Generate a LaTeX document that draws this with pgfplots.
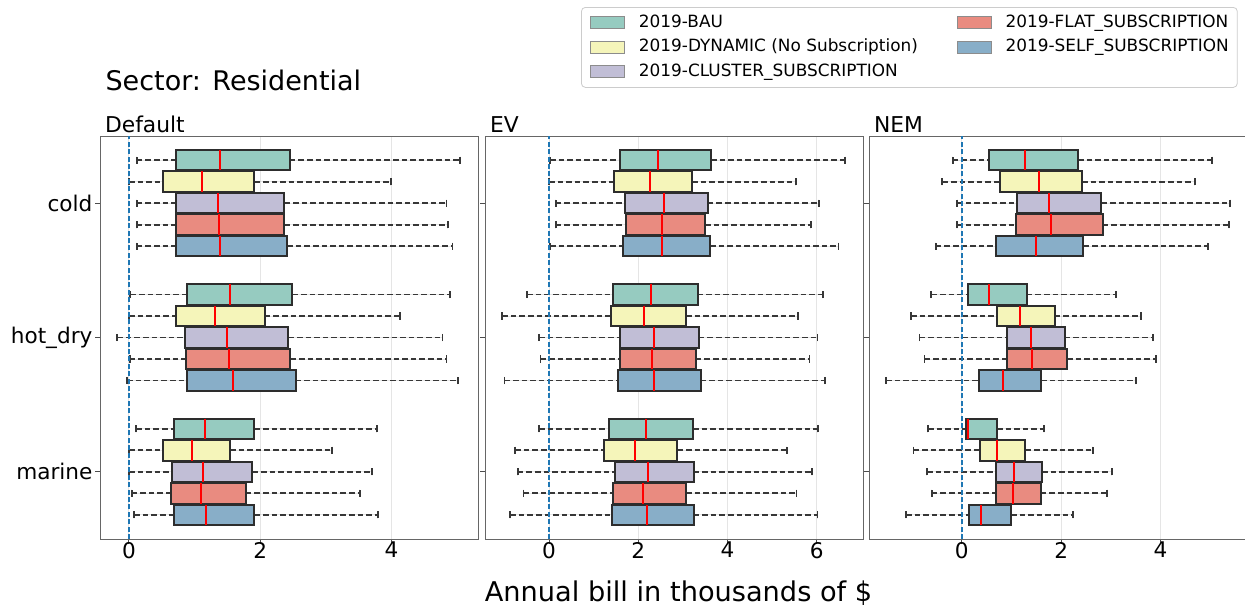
\documentclass[border=0pt]{standalone}
\usepackage{pgfplots}
\pgfplotsset{compat=1.18}
\usepgfplotslibrary{statistics}
\usepackage{fontspec}
\setmainfont{DejaVu Sans}

\definecolor{cBAU}{RGB}{150,203,192}
\definecolor{cDYN}{RGB}{245,245,186}
\definecolor{cCLU}{RGB}{193,190,214}
\definecolor{cFLAT}{RGB}{233,139,128}
\definecolor{cSELF}{RGB}{136,174,200}
\definecolor{edgec}{RGB}{45,45,45}
\definecolor{whiskc}{RGB}{55,55,55}
\definecolor{zeroc}{RGB}{31,119,180}

% one prepared box: position, lower whisker, q1, median, q3, upper whisker, colour
\newcommand{\bx}[7]{%
  \addplot[forget plot, fill=#7, draw=edgec, line width=1pt,
    boxplot prepared={draw position=#1, lower whisker=#2, lower quartile=#3,
      median=#4, upper quartile=#5, upper whisker=#6}] coordinates {};}

\pgfplotsset{
  panel/.style={
    scale only axis, width=189pt, height=201.5pt,
    ymin=-0.5, ymax=2.5, ytick={0,1,2},
    boxplot/draw direction=x,
    boxplot/box extend=0.152,
    boxplot/whisker extend=0.054,
    boxplot/every median/.style={draw=red, line width=1pt},
    boxplot/draw/lower whisker/.code={%
      \draw[whiskc, line width=0.95pt, dash pattern=on 2.8pt off 1.5pt]
        (boxplot cs:\pgfplotsboxplotvalue{lower whisker}) --
        (boxplot cs:\pgfplotsboxplotvalue{lower quartile});
      \draw[whiskc, line width=0.9pt]
        (boxplot whisker cs:\pgfplotsboxplotvalue{lower whisker},0) --
        (boxplot whisker cs:\pgfplotsboxplotvalue{lower whisker},1);},
    boxplot/draw/upper whisker/.code={%
      \draw[whiskc, line width=0.95pt, dash pattern=on 2.8pt off 1.5pt]
        (boxplot cs:\pgfplotsboxplotvalue{upper quartile}) --
        (boxplot cs:\pgfplotsboxplotvalue{upper whisker});
      \draw[whiskc, line width=0.9pt]
        (boxplot whisker cs:\pgfplotsboxplotvalue{upper whisker},0) --
        (boxplot whisker cs:\pgfplotsboxplotvalue{upper whisker},1);},
    axis line style={draw=black!60, line width=0.5pt},
    tick align=outside, xtick pos=lower, ytick pos=left,
    major tick length=2.5pt,
    tick style={black!70, line width=0.5pt},
    xmajorgrids, grid style={black!10, line width=0.5pt},
    ticklabel style={font=\fontsize{10.8}{12}\selectfont, inner sep=0pt},
    yticklabel style={xshift=-1.1pt},
    xticklabel style={yshift=1.2pt},
    /pgf/number format/assume math mode=true,
    title style={at={(0,1)}, anchor=base west, inner sep=0pt,
      xshift=2.35pt, yshift=-4.15pt, font=\fontsize{10.9}{12}\selectfont},
  },
}

\begin{document}
\begin{tikzpicture}
\useasboundingbox (0,0) rectangle (622.5pt,-303pt);

% ---------------- Default
\begin{axis}[panel, at={(50pt,-68pt)}, anchor=north west,
  title={Default}, xmin=-0.442, xmax=5.32, xtick={0,2,4},
  yticklabels={marine,hot\_dry,cold}]
\bx{2.32}{0.12}{0.72}{1.38}{2.45}{5.05}{cBAU}
\bx{2.16}{0.00}{0.52}{1.11}{1.91}{3.99}{cDYN}
\bx{2.00}{0.12}{0.71}{1.35}{2.37}{4.84}{cCLU}
\bx{1.84}{0.12}{0.72}{1.37}{2.37}{4.86}{cFLAT}
\bx{1.68}{0.12}{0.72}{1.39}{2.41}{4.93}{cSELF}
\bx{1.32}{0.02}{0.88}{1.54}{2.49}{4.89}{cBAU}
\bx{1.16}{0.00}{0.71}{1.31}{2.07}{4.13}{cDYN}
\bx{1.00}{-0.18}{0.85}{1.49}{2.43}{4.78}{cCLU}
\bx{0.84}{0.01}{0.87}{1.53}{2.46}{4.84}{cFLAT}
\bx{0.68}{-0.03}{0.89}{1.59}{2.54}{5.01}{cSELF}
\bx{0.32}{0.11}{0.68}{1.16}{1.91}{3.78}{cBAU}
\bx{0.16}{0.00}{0.52}{0.96}{1.54}{3.10}{cDYN}
\bx{0.00}{0.00}{0.66}{1.13}{1.88}{3.71}{cCLU}
\bx{-0.16}{0.04}{0.64}{1.09}{1.78}{3.52}{cFLAT}
\bx{-0.32}{0.08}{0.68}{1.17}{1.91}{3.79}{cSELF}
\addplot[forget plot, zeroc, line width=0.8pt, dash pattern=on 2.5pt off 1.2pt]
  coordinates {(0,-0.5) (0,2.5)};
\end{axis}

% ---------------- EV
\begin{axis}[panel, at={(242.5pt,-68pt)}, anchor=north west,
  title={EV}, xmin=-1.435, xmax=7.04, xtick={0,2,4,6},
  yticklabels={}]
\bx{2.32}{0.02}{1.59}{2.44}{3.63}{6.64}{cBAU}
\bx{2.16}{0.00}{1.46}{2.27}{3.21}{5.53}{cDYN}
\bx{2.00}{0.15}{1.71}{2.58}{3.56}{6.05}{cCLU}
\bx{1.84}{0.15}{1.73}{2.53}{3.50}{5.87}{cFLAT}
\bx{1.68}{0.02}{1.67}{2.53}{3.61}{6.49}{cSELF}
\bx{1.32}{-0.49}{1.44}{2.29}{3.33}{6.14}{cBAU}
\bx{1.16}{-1.05}{1.38}{2.13}{3.07}{5.59}{cDYN}
\bx{1.00}{-0.22}{1.60}{2.36}{3.36}{6.02}{cCLU}
\bx{0.84}{-0.19}{1.60}{2.32}{3.29}{5.84}{cFLAT}
\bx{0.68}{-1.00}{1.54}{2.35}{3.40}{6.19}{cSELF}
\bx{0.32}{-0.22}{1.35}{2.17}{3.23}{6.03}{cBAU}
\bx{0.16}{-0.76}{1.23}{1.92}{2.88}{5.33}{cDYN}
\bx{0.00}{-0.70}{1.48}{2.23}{3.24}{5.90}{cCLU}
\bx{-0.16}{-0.57}{1.43}{2.11}{3.07}{5.55}{cFLAT}
\bx{-0.32}{-0.87}{1.41}{2.19}{3.24}{6.02}{cSELF}
\addplot[forget plot, zeroc, line width=0.8pt, dash pattern=on 2.5pt off 1.2pt]
  coordinates {(0,-0.5) (0,2.5)};
\end{axis}

% ---------------- NEM
\begin{axis}[panel, at={(434.5pt,-68pt)}, anchor=north west,
  title={NEM}, xmin=-1.865, xmax=5.74, xtick={0,2,4},
  yticklabels={},
  legend columns=2,
  legend cell align=left,
  legend image code/.code={%
    \draw[#1, sharp corners, line width=0.5pt] (0pt,-3pt) rectangle (17pt,3pt);
    \path (24pt,0pt);},
  legend style={at={(0.9754,1.3201)}, anchor=north east,
    draw=black!20, rounded corners=2pt, fill=white,
    inner xsep=4.3pt, inner ysep=3.8pt, row sep=4.35pt, column sep=0pt,
    /tikz/every even column/.append style={column sep=19.35pt},
    font=\fontsize{8.45}{10}\selectfont,
    nodes={inner sep=0pt, text height=6.2pt, text depth=1.7pt}}]
\bx{2.32}{-0.18}{0.55}{1.28}{2.34}{5.04}{cBAU}
\bx{2.16}{-0.39}{0.78}{1.55}{2.42}{4.69}{cDYN}
\bx{2.00}{-0.09}{1.11}{1.76}{2.81}{5.40}{cCLU}
\bx{1.84}{-0.09}{1.09}{1.79}{2.84}{5.38}{cFLAT}
\bx{1.68}{-0.52}{0.68}{1.50}{2.45}{4.95}{cSELF}
\bx{1.32}{-0.61}{0.12}{0.55}{1.31}{3.10}{cBAU}
\bx{1.16}{-1.02}{0.70}{1.17}{1.87}{3.60}{cDYN}
\bx{1.00}{-0.85}{0.91}{1.40}{2.07}{3.85}{cCLU}
\bx{0.84}{-0.75}{0.92}{1.41}{2.12}{3.91}{cFLAT}
\bx{0.68}{-1.52}{0.35}{0.83}{1.60}{3.50}{cSELF}
\bx{0.32}{-0.68}{0.09}{0.13}{0.71}{1.66}{cBAU}
\bx{0.16}{-0.97}{0.36}{0.71}{1.28}{2.64}{cDYN}
\bx{0.00}{-0.70}{0.68}{1.05}{1.62}{3.02}{cCLU}
\bx{-0.16}{-0.60}{0.68}{1.03}{1.59}{2.93}{cFLAT}
\bx{-0.32}{-1.12}{0.14}{0.38}{0.99}{2.24}{cSELF}
\addplot[forget plot, zeroc, line width=0.8pt, dash pattern=on 2.5pt off 1.2pt]
  coordinates {(0,-0.5) (0,2.5)};
\addlegendimage{fill=cBAU, draw=black!45}
\addlegendentry{2019-BAU}
\addlegendimage{fill=cFLAT, draw=black!45}
\addlegendentry{2019-FLAT\_SUBSCRIPTION}
\addlegendimage{fill=cDYN, draw=black!45}
\addlegendentry{2019-DYNAMIC (No Subscription)}
\addlegendimage{fill=cSELF, draw=black!45}
\addlegendentry{2019-SELF\_SUBSCRIPTION}
\addlegendimage{fill=cCLU, draw=black!45}
\addlegendentry{2019-CLUSTER\_SUBSCRIPTION}
\end{axis}

\node[anchor=base west, inner sep=0pt, font=\fontsize{13.5}{15}\selectfont]
  at (52.6pt,-45pt) {Sector: Residential};
\node[anchor=base, inner sep=0pt, font=\fontsize{13.6}{15}\selectfont]
  at (339.25pt,-300.5pt) {Annual bill in thousands of \$};
\end{tikzpicture}
\end{document}
